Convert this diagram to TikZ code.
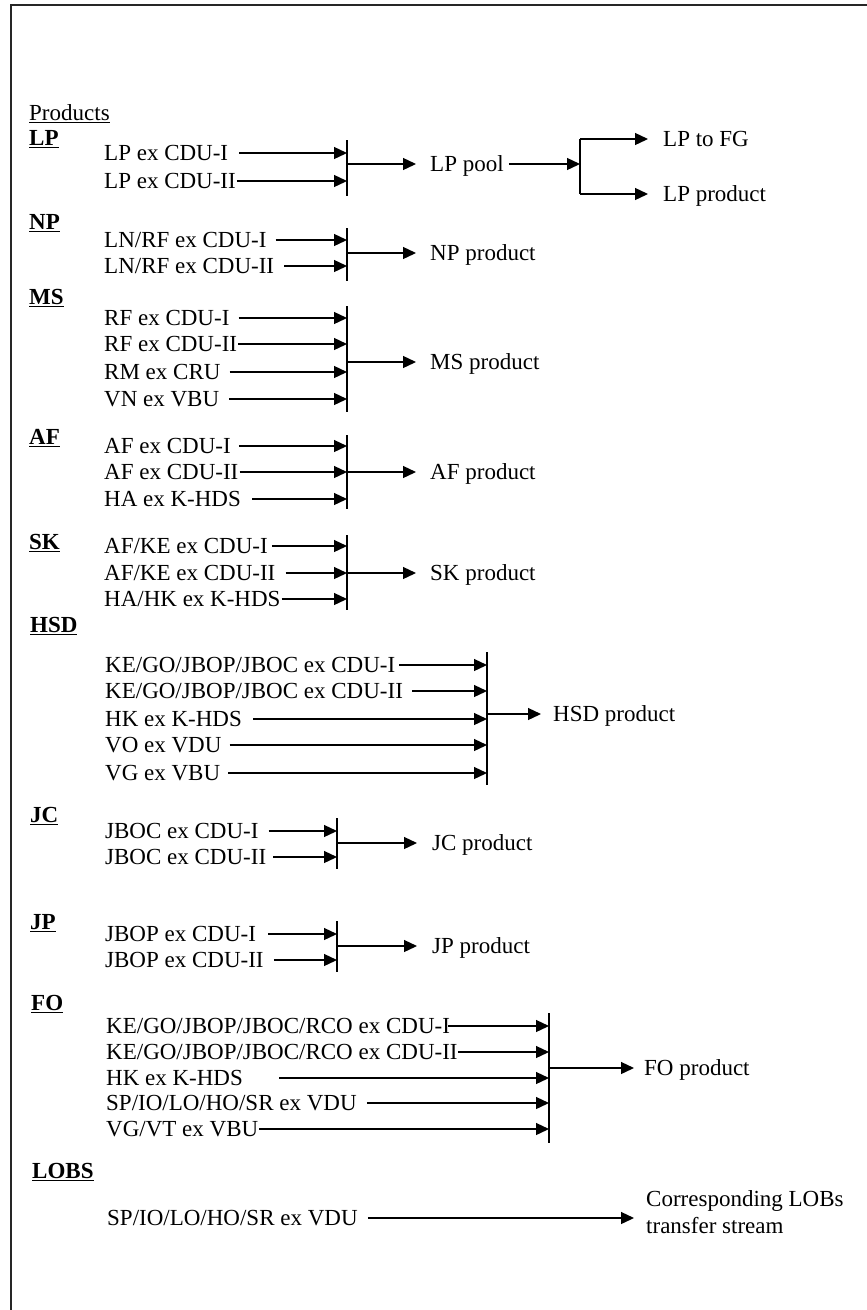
\documentclass[tikz,border=0pt]{standalone}
\usepackage{fontspec}
\setmainfont{Liberation Serif}
\usetikzlibrary{arrows.meta}
\tikzset{
  lbl/.style={anchor=west, inner sep=0pt, text height=15pt, text depth=0pt, font=\fontsize{23}{26}\selectfont},
  head/.style={lbl, font=\fontsize{23}{26}\selectfont\bfseries},
  outlbl/.style={anchor=west, inner sep=0pt, align=left, font=\fontsize{23}{27}\selectfont},
  arr/.style={-{Triangle[length=13pt,width=12pt]}, line width=1.3pt},
  bar/.style={line width=1.3pt},
  frame/.style={line width=1.6pt, draw=black!85}
}
\begin{document}
\begin{tikzpicture}[x=1pt,y=-1pt]
\useasboundingbox (0,0) rectangle (867,1310);
\draw[frame] (11,1310) -- (11,5) -- (867,5);

\node[lbl] (prod) at (29,113) {\underline{Products}};

% LP
\node[head] (hLP) at (29,138) {\underline{LP}};
\node[lbl] (lp1) at (104,153) {LP ex CDU-I};
\node[lbl] (lp2) at (104,181) {LP ex CDU-II};
\coordinate (lpT) at (347,140); \coordinate (lpB) at (347,196); \coordinate (lpO) at (347,164);
\draw[bar] (lpT) -- (lpB);
\draw[arr] (lp1.east) ++(11,0) -- (lp1.east -| lpT);
\draw[arr] (lp2.east) ++(1,0) -- (lp2.east -| lpT);
\node[lbl] (lppool) at (430,164) {LP pool};
\draw[arr] (lpO) -- ([xshift=-14pt]lppool.west);
\coordinate (lqT) at (580,139); \coordinate (lqB) at (580,194);
\draw[bar] (lqT) -- (lqB);
\draw[arr] (lppool.east) ++(5,0) -- (lppool.east -| lqT);
\node[lbl] (lpfg) at (663,139) {LP to FG};
\node[lbl] (lpprod) at (663,194) {LP product};
\draw[arr] (lqT) -- ([xshift=-15pt]lpfg.west);
\draw[arr] (lqB) -- ([xshift=-15pt]lpprod.west);

% NP
\node[head] (hNP) at (29,222) {\underline{NP}};
\node[lbl] (np1) at (104,240) {LN/RF ex CDU-I};
\node[lbl] (np2) at (104,266) {LN/RF ex CDU-II};
\coordinate (npT) at (347,228); \coordinate (npB) at (347,281); \coordinate (npO) at (347,253);
\draw[bar] (npT) -- (npB);
\draw[arr] (np1.east) ++(9,0) -- (np1.east -| npT);
\draw[arr] (np2.east) ++(10,0) -- (np2.east -| npT);
\node[lbl] (npprod) at (430,253) {NP product};
\draw[arr] (npO) -- ([xshift=-14pt]npprod.west);

% MS
\node[head] (hMS) at (29,297) {\underline{MS}};
\node[lbl] (ms1) at (104,318) {RF ex CDU-I};
\node[lbl] (ms2) at (104,344) {RF ex CDU-II};
\node[lbl] (ms3) at (104,372) {RM ex CRU};
\node[lbl] (ms4) at (104,399) {VN ex VBU};
\coordinate (msT) at (347,306); \coordinate (msB) at (347,412); \coordinate (msO) at (347,362);
\draw[bar] (msT) -- (msB);
\draw[arr] (ms1.east) ++(9,0) -- (ms1.east -| msT);
\draw[arr] (ms2.east) ++(1,0) -- (ms2.east -| msT);
\draw[arr] (ms3.east) ++(9,0) -- (ms3.east -| msT);
\draw[arr] (ms4.east) ++(10,0) -- (ms4.east -| msT);
\node[lbl] (msprod) at (430,362) {MS product};
\draw[arr] (msO) -- ([xshift=-14pt]msprod.west);

% AF
\node[head] (hAF) at (29,437) {\underline{AF}};
\node[lbl] (af1) at (104,446) {AF ex CDU-I};
\node[lbl] (af2) at (104,472) {AF ex CDU-II};
\node[lbl] (af3) at (104,499) {HA ex K-HDS};
\coordinate (afT) at (347,435); \coordinate (afB) at (347,509); \coordinate (afO) at (347,472);
\draw[bar] (afT) -- (afB);
\draw[arr] (af1.east) ++(8,0) -- (af1.east -| afT);
\draw[arr] (af2.east) ++(1,0) -- (af2.east -| afT);
\draw[arr] (af3.east) ++(11,0) -- (af3.east -| afT);
\node[lbl] (afprod) at (430,472) {AF product};
\draw[arr] (afO) -- ([xshift=-14pt]afprod.west);

% SK
\node[head] (hSK) at (29,542) {\underline{SK}};
\node[lbl] (sk1) at (104,546) {AF/KE ex CDU-I};
\node[lbl] (sk2) at (104,573) {AF/KE ex CDU-II};
\node[lbl] (sk3) at (104,599) {HA/HK ex K-HDS};
\coordinate (skT) at (347,535); \coordinate (skB) at (347,610); \coordinate (skO) at (347,573);
\draw[bar] (skT) -- (skB);
\draw[arr] (sk1.east) ++(4,0) -- (sk1.east -| skT);
\draw[arr] (sk2.east) ++(10,0) -- (sk2.east -| skT);
\draw[arr] (sk3.east) ++(1,0) -- (sk3.east -| skT);
\node[lbl] (skprod) at (430,573) {SK product};
\draw[arr] (skO) -- ([xshift=-14pt]skprod.west);

% HSD
\node[head] (hHSD) at (30,625) {\underline{HSD}};
\node[lbl] (hs1) at (105,665) {KE/GO/JBOP/JBOC ex CDU-I};
\node[lbl] (hs2) at (105,691) {KE/GO/JBOP/JBOC ex CDU-II};
\node[lbl] (hs3) at (105,719) {HK ex K-HDS};
\node[lbl] (hs4) at (105,745) {VO ex VDU};
\node[lbl] (hs5) at (105,773) {VG ex VBU};
\coordinate (hsT) at (487,652); \coordinate (hsB) at (487,785); \coordinate (hsO) at (487,714);
\draw[bar] (hsT) -- (hsB);
\draw[arr] (hs1.east) ++(4,0) -- (hs1.east -| hsT);
\draw[arr] (hs2.east) ++(9,0) -- (hs2.east -| hsT);
\draw[arr] (hs3.east) ++(11,0) -- (hs3.east -| hsT);
\draw[arr] (hs4.east) ++(8,0) -- (hs4.east -| hsT);
\draw[arr] (hs5.east) ++(8,0) -- (hs5.east -| hsT);
\node[lbl] (hsprod) at (553,714) {HSD product};
\draw[arr] (hsO) -- ([xshift=-12pt]hsprod.west);

% JC
\node[head] (hJC) at (30,815) {\underline{JC}};
\node[lbl] (jc1) at (105,831) {JBOC ex CDU-I};
\node[lbl] (jc2) at (105,857) {JBOC ex CDU-II};
\coordinate (jcT) at (337,818); \coordinate (jcB) at (337,869); \coordinate (jcO) at (337,843);
\draw[bar] (jcT) -- (jcB);
\draw[arr] (jc1.east) ++(10,0) -- (jc1.east -| jcT);
\draw[arr] (jc2.east) ++(7,0) -- (jc2.east -| jcT);
\node[lbl] (jcprod) at (432,843) {JC product};
\draw[arr] (jcO) -- ([xshift=-15pt]jcprod.west);

% JP
\node[head] (hJP) at (30,922) {\underline{JP}};
\node[lbl] (jp1) at (105,934) {JBOP ex CDU-I};
\node[lbl] (jp2) at (105,960) {JBOP ex CDU-II};
\coordinate (jpT) at (337,921); \coordinate (jpB) at (337,972); \coordinate (jpO) at (337,946);
\draw[bar] (jpT) -- (jpB);
\draw[arr] (jp1.east) ++(12,0) -- (jp1.east -| jpT);
\draw[arr] (jp2.east) ++(10,0) -- (jp2.east -| jpT);
\node[lbl] (jpprod) at (432,946) {JP product};
\draw[arr] (jpO) -- ([xshift=-15pt]jpprod.west);

% FO
\node[head] (hFO) at (31,1003) {\underline{FO}};
\node[lbl] (fo1) at (106,1026) {KE/GO/JBOP/JBOC/RCO ex CDU-I};
\node[lbl] (fo2) at (106,1052) {KE/GO/JBOP/JBOC/RCO ex CDU-II};
\node[lbl] (fo3) at (106,1078) {HK ex K-HDS};
\node[lbl] (fo4) at (106,1103) {SP/IO/LO/HO/SR ex VDU};
\node[lbl] (fo5) at (106,1129) {VG/VT ex VBU};
\coordinate (foT) at (549,1013); \coordinate (foB) at (549,1143); \coordinate (foO) at (549,1068);
\draw[bar] (foT) -- (foB);
\draw[arr] (fo1.east) ++(-2,0) -- (fo1.east -| foT);
\draw[arr] (fo2.east) ++(0,0) -- (fo2.east -| foT);
\draw[arr] (fo3.east) ++(36,0) -- (fo3.east -| foT);
\draw[arr] (fo4.east) ++(10,0) -- (fo4.east -| foT);
\draw[arr] (fo5.east) ++(1,0) -- (fo5.east -| foT);
\node[lbl] (foprod) at (644,1068) {FO product};
\draw[arr] (foO) -- ([xshift=-10pt]foprod.west);

% LOBS
\node[head] (hLOBS) at (32,1171) {\underline{LOBS}};
\node[lbl] (lo1) at (107,1218) {SP/IO/LO/HO/SR ex VDU};
\coordinate (lotip) at (634,1218);
\node[outlbl] (loout) at (646,1212) {Corresponding LOBs\\transfer stream};
\draw[arr] (lo1.east) ++(10,0) -- (lo1.east -| lotip);
\end{tikzpicture}
\end{document}
